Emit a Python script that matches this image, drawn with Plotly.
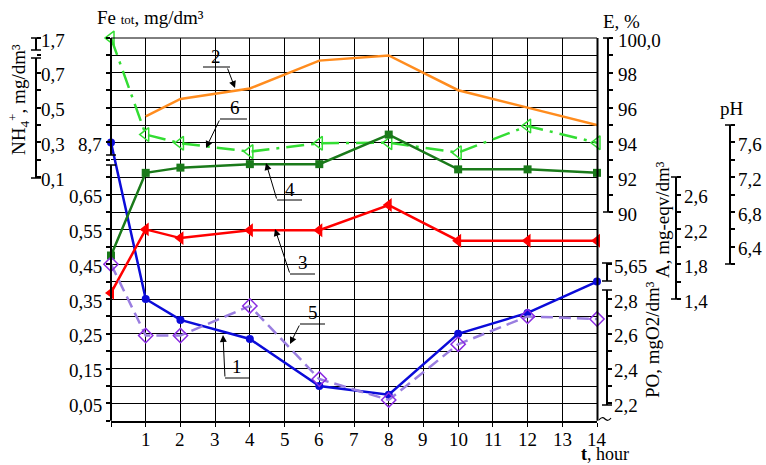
import plotly.graph_objects as go

W, H = 766, 465
FONT = "Liberation Serif"
FS = 19

# ---------------- data ----------------
hours = [0, 1, 2, 4, 6, 8, 10, 12, 14]
fe_tot = [8.7, 0.35, 0.29, 0.235, 0.10, 0.075, 0.25, 0.31, 0.40]          # 1: Fe tot, mg/dm3
e_hours = [1, 2, 4, 6, 8, 10, 12, 14]
efficiency = [95.5, 96.5, 97.1, 98.7, 99.0, 97.0, 96.0, 95.0]             # 2: E, %
alkalinity = [1.47, 2.20, 2.10, 2.19, 2.19, 2.48, 2.07, 2.07, 2.07]       # 3: A, mg-eqv/dm3
ph = [6.30, 7.25, 7.31, 7.35, 7.35, 7.69, 7.29, 7.29, 7.25]               # 4: pH
perm_ox = [5.65, 2.59, 2.59, 2.76, 2.34, 2.22, 2.54, 2.70, 2.685]         # 5: PO, mgO2/dm3
ammonium = [1.7, 0.345, 0.295, 0.247, 0.295, 0.298, 0.241, 0.394, 0.298]  # 6: NH4+, mg/dm3

x_labels = list(range(1, 15))
fe_labels = [0.05, 0.15, 0.25, 0.35, 0.45, 0.55, 0.65, 8.7]
nh4_labels = [0.1, 0.3, 0.5, 0.7, 1.7]
e_labels = [90, 92, 94, 96, 98, 100]
a_labels = [1.4, 1.8, 2.2, 2.6]
ph_labels = [6.4, 6.8, 7.2, 7.6]
po_labels = [2.2, 2.4, 2.6, 2.8, 5.65]

# broken axes: values above the cut sit on a short upper segment
FE_CUT, FE_SHIFT = 1.0, 7.9
PO_CUT, PO_SHIFT = 4.0, 2.65
NH4_CUT, NH4_SHIFT = 1.0, 0.8


def broken(values, cut, shift):
    return [v - shift if v > cut else v for v in values]


def comma(v):
    return "100,0" if v == 100 else f"{v:g}".replace(".", ",")


def px(x):
    return x / W


def py(y):
    return 1 - y / H


# plot area in pixels
X0, X1, Y0, Y1 = 111, 597, 38, 420.8

fig = go.Figure()

common = dict(mode="lines+markers", cliponaxis=False, showlegend=False)

fig.add_trace(go.Scatter(x=e_hours, y=efficiency, yaxis="y3", mode="lines",
                         line=dict(color="#ff8c1e", width=2.5), cliponaxis=False, showlegend=False))
fig.add_trace(go.Scatter(x=hours, y=broken(ammonium, NH4_CUT, NH4_SHIFT), yaxis="y2",
                         line=dict(color="#33dd33", width=2.5, dash="18px,7px,3px,7px"),
                         marker=dict(symbol="triangle-left-open", size=12, color="#33dd33",
                                     line=dict(width=1.5, color="#33dd33")), **common))
fig.add_trace(go.Scatter(x=hours, y=ph, yaxis="y5",
                         line=dict(color="#1a7a1a", width=2.5),
                         marker=dict(symbol="square", size=8, color="#1a7a1a"), **common))
fig.add_trace(go.Scatter(x=hours, y=alkalinity, yaxis="y4",
                         line=dict(color="#ff0000", width=2.5),
                         marker=dict(symbol="triangle-left", size=12, color="#ff0000"), **common))
fig.add_trace(go.Scatter(x=hours, y=broken(perm_ox, PO_CUT, PO_SHIFT), yaxis="y6",
                         line=dict(color="#9a7ee0", width=2.5, dash="12px,6px"),
                         marker=dict(symbol="diamond-open", size=11, color="#8a2be2",
                                     line=dict(width=1.5, color="#8a2be2")), **common))
fig.add_trace(go.Scatter(x=hours, y=broken(fe_tot, FE_CUT, FE_SHIFT), yaxis="y",
                         line=dict(color="#0b0bd9", width=2.5),
                         marker=dict(symbol="circle", size=8, color="#0b0bd9"), **common))


def side_axis(pos, rng, vals):
    return dict(overlaying="y", anchor="free", position=pos, side="right", range=rng,
                tickmode="array", tickvals=vals, showticklabels=False, ticks="outside",
                ticklen=4, tickwidth=1.5, tickcolor="black", showgrid=False, zeroline=False,
                showline=False)


fig.update_layout(
    width=W, height=H, template="none",
    font=dict(family=FONT, size=FS, color="black"),
    margin=dict(l=0, r=0, t=0, b=0),
    paper_bgcolor="white", plot_bgcolor="white",
    xaxis=dict(domain=[px(X0), px(X1)], range=[0, 14], tickmode="array",
               tickvals=list(range(15)), showticklabels=False, ticks="outside", ticklen=4,
               tickcolor="black", showgrid=True, gridcolor="black", gridwidth=1,
               showline=True, linewidth=2, linecolor="black", zeroline=False, anchor="y"),
    yaxis=dict(domain=[py(Y1), py(Y0)], range=[0, 1.1], tickmode="array",
               tickvals=[round(0.05 * i, 2) for i in range(23)], showticklabels=False,
               ticks="outside", ticklen=4, tickwidth=1.5, tickcolor="black",
               showgrid=True, gridcolor="black", gridwidth=1, showline=False, zeroline=False),
    yaxis2=side_axis(px(36), [-1.3, 0.9], [round(0.1 * i, 1) for i in range(1, 10)]),
    yaxis3=side_axis(px(608), [78, 100], list(range(90, 101))),
    yaxis4=side_axis(px(676), [0, 4.4], [round(1.4 + 0.2 * i, 1) for i in range(8)]),
    yaxis5=side_axis(px(730), [4.4, 8.8], [round(6.2 + 0.2 * i, 1) for i in range(9)]),
    yaxis6=side_axis(px(607), [2.1, 4.3], [round(2.2 + 0.1 * i, 1) for i in range(7)] + [3.0]),
)

shapes = []
annotations = []


def seg(x0, y0, x1, y1, w=2):
    shapes.append(dict(type="line", xref="paper", yref="paper", x0=px(x0), y0=py(y0),
                       x1=px(x1), y1=py(y1), line=dict(color="black", width=w)))


def axis_segment(x, y0, y1, cap=5, w=2):
    seg(x, y0, x, y1, w)
    seg(x - cap, y0, x + cap, y0, 1.5)
    seg(x - cap, y1, x + cap, y1, 1.5)


def tick_labels(yref, axis_x, values, cut=None, shift=0.0, side="right", gap=7):
    for v in values:
        pos = v - shift if (cut is not None and v > cut) else v
        annotations.append(dict(
            xref="paper", x=px(axis_x), yref=yref, y=pos, text=comma(v), showarrow=False,
            xanchor="left" if side == "right" else "right", yanchor="middle",
            xshift=gap if side == "right" else -gap, yshift=-2, borderpad=0,
            font=dict(family=FONT, size=FS, color="black")))


# axis numbers
tick_labels("y", X0, fe_labels, FE_CUT, FE_SHIFT, side="left", gap=8)
tick_labels("y2", 36, nh4_labels, NH4_CUT, NH4_SHIFT, gap=4)
tick_labels("y3", 608, e_labels, gap=9)
tick_labels("y4", 676, a_labels, gap=7)
tick_labels("y5", 730, ph_labels, gap=7)
tick_labels("y6", 607, po_labels, PO_CUT, PO_SHIFT, gap=6)
for t in x_labels:
    annotations.append(dict(xref="x", x=t, yref="paper", y=py(Y1), xanchor="center",
                            yanchor="top", yshift=-7, text=str(t), showarrow=False, borderpad=0,
                            font=dict(family=FONT, size=FS, color="black")))

# frame
seg(X0, Y0, X1, Y0, 1)
seg(X1 + 0.5, Y0, X1 + 0.5, Y1, 2)
# Fe tot axis with break
seg(X0, Y0, X0, 155, 2)
seg(X0 - 5, 155, X0 + 5, 155, 1.5)
seg(X0, 165, X0, Y1, 2)
seg(X0 - 5, 165, X0 + 5, 165, 1.5)
# NH4 axis with break
axis_segment(36, 38, 50)
axis_segment(36, 58, 178)
# E, A, pH axes
axis_segment(608, 38, 212)
axis_segment(676, 177, 299)
axis_segment(730, 125, 264)
# PO axis with break
axis_segment(607, 263, 281)
axis_segment(607, 290, 405)
shapes.append(dict(type="path", xref="paper", yref="paper",
                   path=f"M {px(599)},{py(420)} Q {px(602)},{py(416)} {px(605)},{py(419)} "
                        f"T {px(611)},{py(418)}",
                   line=dict(color="black", width=1.2)))

# leader lines for curve numbers: (label, text centre, underline x-range & y, arrow tail, arrow tip)
leaders = [
    ("1", (237, 366), (225, 249, 378), (225, 378), (223, 335)),
    ("2", (216, 56), (203, 230, 67), (227, 67), (235, 88)),
    ("3", (303, 262), (290, 315, 274), (290, 274), (275, 229)),
    ("4", (290, 189), (277, 302, 200), (277, 200), (266, 163)),
    ("5", (313, 312), (300, 325, 324), (300, 324), (290, 344)),
    ("6", (235, 107), (220, 247, 119), (220, 119), (206, 148)),
]

for lab, (tx, ty), (ux0, ux1, uy), (ax_, ay_), (hx, hy) in leaders:
    annotations.append(dict(x=px(tx), y=py(ty), xref="paper", yref="paper", text=lab,
                            xanchor="center", yanchor="middle", showarrow=False, borderpad=0,
                            font=dict(family=FONT, size=FS, color="black")))
    seg(ux0, uy, ux1, uy, 1)
    annotations.append(dict(x=px(hx), y=py(hy), xref="paper", yref="paper", text="",
                            showarrow=True, ax=ax_ - hx, ay=ay_ - hy, arrowhead=2,
                            arrowsize=1.4, arrowwidth=1, arrowcolor="black"))


def label(x, y, text, angle=0, size=FS, yanchor="middle"):
    annotations.append(dict(x=px(x), y=py(y), xref="paper", yref="paper", text=text,
                            showarrow=False, textangle=angle, xanchor="center", yanchor=yanchor,
                            borderpad=0, font=dict(family=FONT, size=size, color="black")))


label(150, 17, "Fe <span style='font-size:13px'>tot</span>, mg/dm³")
label(621, 21, "E, %")
label(732, 109, "pH")
label(605, 465, "<b>t</b>, hour", size=18, yanchor="bottom")
label(18, 100, "NH<sub>4</sub><sup>+</sup>, mg/dm³", angle=-90)
label(662, 220, "A, mg-eqv/dm³", angle=-90)
label(652, 340, "PO, mgO2/dm³", angle=-90)

fig.update_layout(shapes=shapes, annotations=annotations)
fig.write_html("out.html")
